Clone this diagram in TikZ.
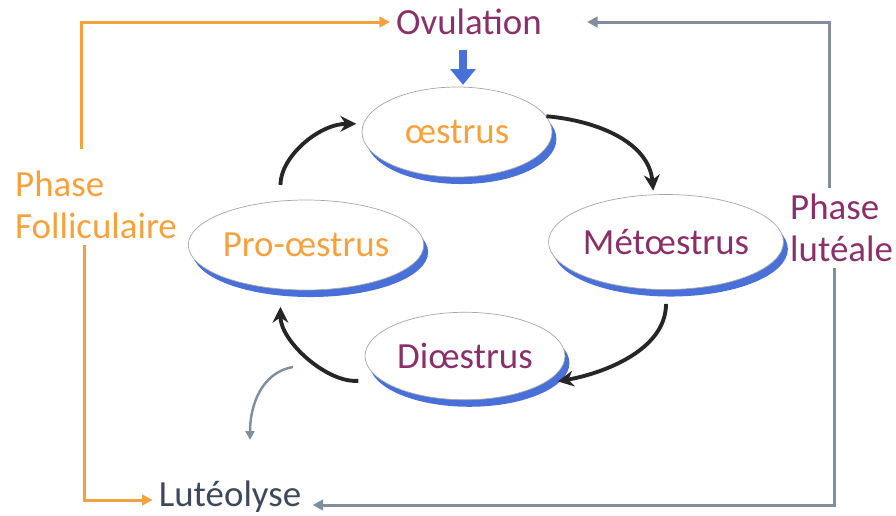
\documentclass[tikz,border=0pt]{standalone}
\usepackage{fontspec}
\setmainfont{Carlito}
\usetikzlibrary{positioning,shapes.geometric,shadows,arrows.meta}
\usepackage{xcolor}
\definecolor{orangeph}{RGB}{245,162,62}
\definecolor{violetph}{RGB}{138,48,104}
\definecolor{bleuombre}{RGB}{72,112,216}
\definecolor{grisph}{RGB}{128,142,158}
\definecolor{grislyse}{RGB}{62,72,92}

\begin{document}
\begin{tikzpicture}[x=0.02cm, y=-0.02cm,
every node/.style={font=\fontsize{21}{24}\selectfont},
phasenode/.style={ellipse, draw=black!35, fill=white, thin, minimum width=3.8cm, minimum height=1.8cm, inner sep=0pt,
  general shadow={fill=bleuombre, shadow xshift=2.5pt, shadow yshift=-4pt}},
cyclearrow/.style={-{Stealth[length=9pt,width=9pt]}, line width=2.2pt, black!85},
orangeline/.style={-{Triangle[length=6pt,width=6pt]}, line width=1.7pt, orangeph},
grisline/.style={-{Triangle[length=6pt,width=6pt]}, line width=1.7pt, grisph},
]
\useasboundingbox (0,0) rectangle (896,515);

%Nodes
%%% Cycle
\node[phasenode, text=orangeph]                                        (oes) at (457,132) {œstrus};
\node[phasenode, text=violetph, minimum width=4.1cm, minimum height=1.9cm] (met) at (666,242) {Métœstrus};
\node[phasenode, text=orangeph, minimum width=3.7cm]                   (pro) at (306,245) {Pro-œstrus};
\node[phasenode, text=violetph, minimum width=4.0cm, minimum height=1.75cm] (dio) at (465,356) {Diœstrus};

%%% Textes
\node[text=violetph]                  (ovul)  at (469,22)  {Ovulation};
\node[text=grislyse]                  (lut)   at (230,497) {Lutéolyse};
\node[text=orangeph, align=left, anchor=west] (folli) at (9,205)   {Phase\\Folliculaire};
\node[text=violetph, align=left, anchor=west] (lutea) at (784,228) {Phase\\lutéale};

%%% Lyse
\coordinate (depart) at (293,367);
\coordinate (lyse)   at (250,440);

%Lines
%%% Cycle
\draw[cyclearrow, shorten >=2pt] (oes.10) to[out=-5, in=95] ([xshift=-0.25cm]met.north);
\draw[cyclearrow, shorten <=8pt, shorten >=9pt] (met.south) to[out=-90, in=10] (dio.-20);
\draw[cyclearrow, shorten <=12pt, shorten >=10pt] (dio.195) to[out=185, in=-90] (pro.240);
\draw[cyclearrow, shorten <=9pt, shorten >=4pt] (pro.120) to[out=90, in=180] (oes.175);

%%% Ovulation
\draw[-{Triangle[length=9pt,width=14pt]}, line width=4pt, bleuombre, shorten <=5pt, shorten >=1pt]
  ([xshift=-0.12cm]ovul.south) -- ([xshift=-0.12cm]ovul.south |- oes.north);
\draw[-{Triangle[length=5pt,width=5pt]}, line width=1.4pt, grisph] (depart) to[out=190, in=90] (lyse);

%%% Phase folliculaire
\draw[orangeline, shorten <=9pt] ([xshift=-0.3cm]folli.north) |- (ovul.west);
\draw[orangeline] ([xshift=-0.24cm]folli.south) |- ([yshift=-0.06cm]lut.west);

%%% Phase luteale
\draw[grisline, shorten >=0.78cm] ([xshift=-0.24cm]lutea.north) |- (ovul.east);
\draw[grisline, shorten >=3pt] ([xshift=-0.14cm]lutea.south) |- ([yshift=-0.16cm]lut.east);

\end{tikzpicture}
\end{document}
